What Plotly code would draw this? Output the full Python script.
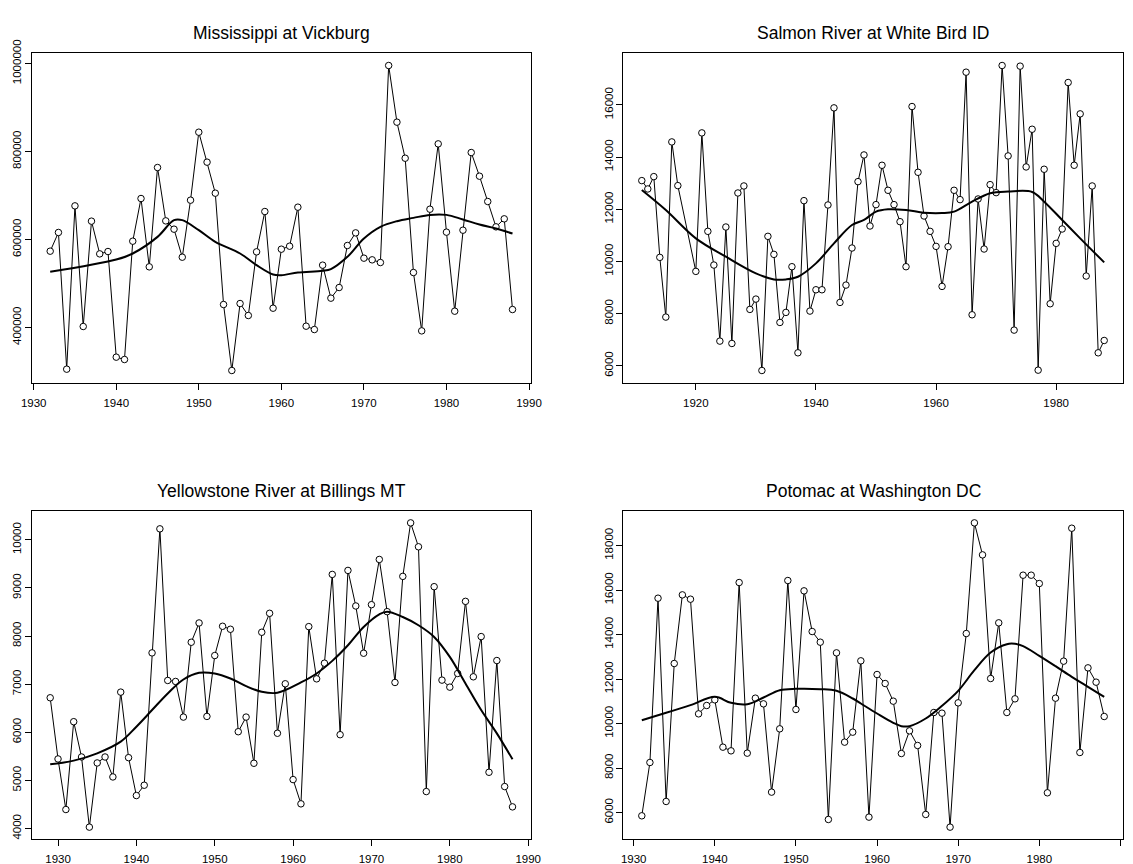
import plotly.graph_objects as go

# ---------------- data ----------------
miss_years = list(range(1932, 1989))
miss_flow = [573500, 616000, 305300, 676500, 402300, 641700, 567400, 572700, 332600, 327300,
             596200, 693200, 537900, 763600, 642400, 623500, 559800, 689400, 843900, 775800,
             705300, 452300, 302300, 454500, 427300, 572000, 663600, 443900, 578000, 584800,
             673500, 403000, 395400, 541700, 466700, 490900, 586400, 615100, 557600, 553800,
             547700, 995500, 866700, 784800, 525000, 392400, 668900, 817400, 616700, 437100,
             621200, 797700, 743900, 686400, 628800, 647000, 440900]
miss_smooth_years = [1932, 1940, 1942, 1945, 1947, 1948, 1950, 1952, 1955, 1957, 1959, 1960, 1962,
                     1965, 1966, 1968, 1970, 1972, 1974, 1976, 1978, 1980, 1982, 1984, 1986, 1988]
miss_smooth = [526500, 554500, 568200, 606000, 644000, 644000, 621200, 594700, 568200, 541700, 520500,
               519000, 525000, 528800, 532600, 560600, 602300, 628800, 641700, 649200, 656000, 656000,
               645500, 634100, 625000, 613600]

salmon_years = [1911, 1912, 1913, 1914, 1915, 1916, 1917] + list(range(1920, 1989))
salmon_flow = [13097, 12777, 13250, 10155, 7866, 14580, 12905,
               9618, 14926, 11153, 9861, 6945, 11319, 6855, 12623, 12892, 8160,
               8556, 5819, 10961, 10270, 7661, 8045, 9797, 6497, 12329, 8096,
               8914, 8914, 12163, 15885, 8428, 9093, 10513, 13058, 14081, 11357,
               12176, 13685, 12726, 12176, 11523, 9797, 15936, 13416, 11741, 11153,
               10577, 9042, 10564, 12726, 12368, 17253, 7955, 12393, 10475, 12943,
               12636, 17509, 14043, 7367, 17484, 13621, 15066, 5832, 13532, 8377,
               10692, 11242, 16857, 13685, 15655, 9439, 12892, 6497, 6970]
salmon_smooth_years = [1911, 1915, 1920, 1925, 1930, 1933, 1935, 1937, 1940, 1943, 1946, 1948, 1950,
                       1952, 1955, 1958, 1961, 1963, 1966, 1969, 1972, 1976, 1978, 1981, 1984, 1988]
salmon_smooth = [12739, 11971, 10884, 10180, 9541, 9311, 9311, 9413, 9925, 10692, 11396, 11588, 11907,
                 11997, 11971, 11869, 11856, 11907, 12291, 12611, 12675, 12662, 12291, 11588, 10884, 9963]

yell_years = list(range(1929, 1989))
yell_flow = [6717, 5446, 4395, 6220, 5487, 4029, 5363, 5487, 5072, 6835,
             5473, 4685, 4900, 7650, 10228, 7077, 7056, 6316, 7871, 8272,
             6330, 7595, 8203, 8141, 6012, 6316, 5356, 8079, 8473, 5980,
             7008, 5017, 4513, 8196, 7111, 7436, 9281, 5950, 9364, 8625,
             7643, 8652, 9592, 8507, 7035, 9240, 10352, 9855, 4768, 9026,
             7084, 6938, 7222, 8721, 7153, 7989, 5169, 7491, 4872, 4450]
yell_smooth_years = [1929, 1932, 1935, 1938, 1940, 1942, 1944, 1946, 1948, 1950, 1952, 1954, 1956,
                     1958, 1961, 1963, 1965, 1967, 1969, 1971, 1972, 1974, 1976, 1978, 1980, 1982,
                     1984, 1986, 1988]
yell_smooth = [5335, 5411, 5563, 5805, 6116, 6462, 6807, 7097, 7236, 7222, 7118, 6959, 6842,
               6821, 7035, 7222, 7484, 7809, 8189, 8452, 8507, 8396, 8224, 7982, 7567, 7014,
               6462, 5978, 5439]

poto_years = list(range(1931, 1989))
poto_flow = [5851, 8248, 15633, 6495, 12697, 15783, 15588, 10435, 10810, 11064,
             8937, 8772, 16337, 8667, 11139, 10884, 6915, 9761, 16427, 10630,
             15963, 14135, 13656, 5686, 13176, 9162, 9611, 12817, 5791, 12203,
             11798, 11004, 8652, 9671, 9012, 5911, 10495, 10465, 5342, 10929,
             14045, 19019, 17581, 12023, 14525, 10495, 11109, 16667, 16667, 16292,
             6885, 11139, 12802, 18779, 8697, 12502, 11858, 10315]
poto_smooth_years = [1931, 1934, 1937, 1940, 1942, 1944, 1946, 1948, 1950, 1953, 1955, 1957, 1958,
                     1960, 1962, 1963, 1964, 1966, 1968, 1970, 1972, 1974, 1976, 1977, 1978, 1980,
                     1982, 1984, 1986, 1988]
poto_smooth = [10150, 10480, 10825, 11199, 10930, 10870, 11169, 11499, 11559, 11544, 11469, 11124, 10900,
               10450, 10030, 9881, 9881, 10225, 10795, 11469, 12397, 13191, 13566, 13581, 13476, 13042,
               12577, 12098, 11649, 11199]

titles = ["Mississippi at Vickburg", "Salmon River at White Bird ID",
          "Yellowstone River at Billings MT", "Potomac at Washington DC"]
x_ticks = [[1930, 1940, 1950, 1960, 1970, 1980, 1990],
           [1920, 1940, 1960, 1980],
           [1930, 1940, 1950, 1960, 1970, 1980, 1990],
           [1930, 1940, 1950, 1960, 1970, 1980, 1990]]
y_ticks = [[400000, 600000, 800000, 1000000],
           [6000, 8000, 10000, 12000, 14000, 16000],
           [4000, 5000, 6000, 7000, 8000, 9000, 10000],
           [6000, 8000, 10000, 12000, 14000, 16000, 18000]]

series = [(miss_years, miss_flow, miss_smooth_years, miss_smooth),
          (salmon_years, salmon_flow, salmon_smooth_years, salmon_smooth),
          (yell_years, yell_flow, yell_smooth_years, yell_smooth),
          (poto_years, poto_flow, poto_smooth_years, poto_smooth)]

# ---------------- layout geometry ----------------
# the page body has an 8px margin, so the figure is laid out 8px smaller/shifted
OFF = 8
W, H = 1133 - OFF, 864 - OFF
boxes_page = [(31.7, 531.0, 53.3, 382.7), (623.3, 1122.7, 53.3, 382.7),
              (31.7, 531.0, 510.7, 839.3), (623.3, 1122.7, 510.7, 839.3)]
boxes = [(a - OFF, b - OFF, c - OFF, d - OFF) for a, b, c, d in boxes_page]

def rrange(v):
    lo, hi = min(v), max(v)
    d = (hi - lo) * 0.04
    return [lo - d, hi + d]

fig = go.Figure()
layout = dict(width=W, height=H, margin=dict(l=0, r=0, t=0, b=0, autoexpand=False),
              template="none",
              paper_bgcolor="white", plot_bgcolor="white", showlegend=False,
              font=dict(family="Liberation Sans, Arial, sans-serif", color="black"))
annotations = []
for i, ((yrs, flow, syrs, sm), (x0, x1, y0, y1)) in enumerate(zip(series, boxes)):
    xa = "x" if i == 0 else f"x{i+1}"
    ya = "y" if i == 0 else f"y{i+1}"
    fig.add_trace(go.Scatter(x=yrs, y=flow, mode="lines+markers", xaxis=xa, yaxis=ya,
                             line=dict(color="black", width=1),
                             marker=dict(symbol="circle", size=6.5, color="white",
                                         line=dict(color="black", width=1)),
                             hoverinfo="x+y"))
    fig.add_trace(go.Scatter(x=syrs, y=sm, mode="lines", xaxis=xa, yaxis=ya,
                             line=dict(color="black", width=2, shape="spline", smoothing=1.0),
                             hoverinfo="skip"))
    xkey = "xaxis" if i == 0 else f"xaxis{i+1}"
    ykey = "yaxis" if i == 0 else f"yaxis{i+1}"
    layout[xkey] = dict(domain=[x0 / W, x1 / W], anchor=ya, range=rrange(yrs), automargin=False,
                        tickmode="array", tickvals=x_ticks[i],
                        ticktext=[str(t) for t in x_ticks[i]], ticks="outside", ticklen=6,
                        tickcolor="black", showline=True, linecolor="black", linewidth=1,
                        mirror=True, showgrid=False, zeroline=False,
                        tickfont=dict(size=11.5, color="black"), ticklabelstandoff=3)
    layout[ykey] = dict(domain=[1 - y1 / H, 1 - y0 / H], anchor=xa, range=rrange(flow), automargin=False,
                        tickmode="array", tickvals=y_ticks[i],
                        ticktext=[str(t) for t in y_ticks[i]], ticks="outside", ticklen=6,
                        tickcolor="black", showline=True, linecolor="black", linewidth=1,
                        mirror=True, showgrid=False, zeroline=False, tickangle=-90,
                        tickfont=dict(size=11.5, color="black"), ticklabelstandoff=-1)
    annotations.append(dict(text=titles[i], x=(x0 + x1) / 2 / W, y=1 - (y0 - 20) / H,
                            xref="paper", yref="paper", showarrow=False,
                            xanchor="center", yanchor="middle",
                            font=dict(size=17.5, color="black")))
layout["annotations"] = annotations
fig.update_layout(**layout)
fig.write_html("out.html")
